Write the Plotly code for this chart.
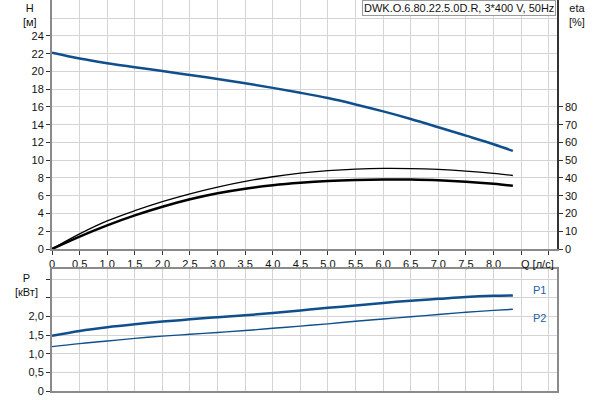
import plotly.graph_objects as go

# flow, l/s
q = [0, 0.5, 1.0, 1.5, 2.0, 2.5, 3.0, 3.5, 4.0, 4.5, 5.0, 5.5, 6.0, 6.5, 7.0, 7.5, 8.0, 8.35]
# head, m
head = [22.1, 21.45, 20.92, 20.48, 20.05, 19.6, 19.15, 18.67, 18.15, 17.6, 17.0, 16.28, 15.5, 14.65, 13.72, 12.77, 11.8, 11.05]
# efficiency, %
eta_pump = [0, 8.5, 15.8, 21.6, 26.7, 31.1, 34.9, 38.1, 40.7, 42.7, 44.1, 45.0, 45.4, 45.3, 44.8, 43.9, 42.6, 41.4]
eta_total = [0, 7.0, 13.3, 18.9, 23.8, 28.0, 31.4, 34.0, 35.9, 37.3, 38.3, 38.9, 39.2, 39.1, 38.7, 37.9, 36.7, 35.6]
# power, kW
p1 = [1.48, 1.61, 1.71, 1.79, 1.86, 1.92, 1.98, 2.03, 2.09, 2.16, 2.23, 2.29, 2.36, 2.42, 2.47, 2.52, 2.55, 2.56]
p2 = [1.19, 1.27, 1.34, 1.41, 1.47, 1.52, 1.57, 1.62, 1.68, 1.74, 1.80, 1.87, 1.93, 1.99, 2.05, 2.11, 2.16, 2.19]

q_ticks = [0, 0.5, 1.0, 1.5, 2.0, 2.5, 3.0, 3.5, 4.0, 4.5, 5.0, 5.5, 6.0, 6.5, 7.0, 7.5, 8.0, 8.5, 9.0]
q_labels = ["0", "0,5", "1,0", "1,5", "2,0", "2,5", "3,0", "3,5", "4,0", "4,5",
            "5,0", "5,5", "6,0", "6,5", "7,0", "7,5", "8,0", "", ""]
h_ticks = list(range(0, 26, 2))
eta_ticks = list(range(0, 90, 10))
p_ticks = [0, 0.5, 1.0, 1.5, 2.0, 2.5, 3.0]
p_labels = ["0", "0,5", "1,0", "1,5", "2,0", "", ""]

BLUE = "#0f4f8c"
GRID = "#d4d4d4"
AXIS = "#8a8a8a"
FONT = dict(family="Liberation Sans, Arial, sans-serif", size=11, color="#111")

fig = go.Figure()
fig.add_trace(go.Scatter(x=q, y=head, mode="lines", line=dict(color=BLUE, width=2.5, shape="spline"),
                         xaxis="x", yaxis="y"))
fig.add_trace(go.Scatter(x=q, y=eta_pump, mode="lines", line=dict(color="#000", width=1.3, shape="spline"),
                         xaxis="x", yaxis="y2"))
fig.add_trace(go.Scatter(x=q, y=eta_total, mode="lines", line=dict(color="#000", width=2.5, shape="spline"),
                         xaxis="x", yaxis="y2"))
fig.add_trace(go.Scatter(x=q, y=p1, mode="lines", line=dict(color=BLUE, width=2.5, shape="spline"),
                         xaxis="x2", yaxis="y3"))
fig.add_trace(go.Scatter(x=q, y=p2, mode="lines", line=dict(color=BLUE, width=1.4, shape="spline"),
                         xaxis="x2", yaxis="y3"))

top_dom = [142 / 391, 1]
bot_dom = [0, 122 / 391]
xr = [0, 9.15]

fig.update_layout(
    width=600, height=400,
    margin=dict(l=52, r=43, t=0, b=9),
    paper_bgcolor="white", plot_bgcolor="white",
    showlegend=False, font=FONT,
    xaxis=dict(domain=[0, 1], range=xr, anchor="y", tickmode="array", tickvals=q_ticks, ticktext=q_labels,
               showgrid=True, gridcolor=GRID, gridwidth=1, showline=True, linecolor=AXIS, linewidth=2,
               ticks="outside", ticklen=4, tickcolor="#333", zeroline=False, tickfont=FONT),
    yaxis=dict(domain=top_dom, range=[0, 28.05], anchor="x", tickmode="array", tickvals=h_ticks,
               showgrid=True, gridcolor=GRID, gridwidth=1, showline=True, linecolor=AXIS, linewidth=2,
               ticks="outside", ticklen=4, tickcolor="#333", zeroline=False, tickfont=FONT,
               minor=dict(tickmode="array", tickvals=[26], showgrid=True, gridcolor=GRID, ticks="")),
    yaxis2=dict(overlaying="y", side="right", anchor="x", range=[0, 140.25], tickmode="array", tickvals=eta_ticks,
                showgrid=False, showline=True, linecolor="#333", linewidth=1.5, ticks="outside", ticklen=4,
                tickcolor="#333", zeroline=False, tickfont=FONT),
    xaxis2=dict(domain=[0, 1], range=xr, anchor="y3", tickmode="array", tickvals=q_ticks, showticklabels=False,
                showgrid=True, gridcolor=GRID, gridwidth=1, showline=True, linecolor=AXIS, linewidth=2,
                mirror=True, ticks="", zeroline=False),
    yaxis3=dict(domain=bot_dom, range=[0, 3.27], anchor="x2", tickmode="array", tickvals=p_ticks, ticktext=p_labels,
                showgrid=True, gridcolor=GRID, gridwidth=1, showline=True, linecolor=AXIS, linewidth=2,
                mirror=True, ticks="outside", ticklen=4, tickcolor="#333", zeroline=False, tickfont=FONT),
)

fig.add_annotation(text="H<br>[м]", xref="paper", yref="paper", x=-0.043, y=1, xanchor="center", yanchor="top",
                   showarrow=False, font=FONT, align="center")
fig.add_annotation(text="eta<br>[%]", xref="paper", yref="paper", x=1.04, y=1, xanchor="center", yanchor="top",
                   showarrow=False, font=FONT, align="center")
fig.add_annotation(text="P<br>[кВт]", xref="paper", yref="paper", x=-0.05, y=0.31, xanchor="center", yanchor="top",
                   showarrow=False, font=FONT, align="center")
fig.add_annotation(text="Q [л/с]", xref="x", yref="paper", x=8.79, y=0.345, xanchor="center", yanchor="top",
                   showarrow=False, font=FONT)
fig.add_annotation(text="DWK.O.6.80.22.5.0D.R, 3*400 V, 50Hz", xref="paper", yref="paper", x=0.998, y=1,
                   xanchor="right", yanchor="top", showarrow=False, font=FONT, bgcolor="white",
                   bordercolor="#999", borderwidth=1, borderpad=1)
fig.add_annotation(text="P1", xref="x2", yref="y3", x=8.84, y=2.72, showarrow=False,
                   font=dict(family=FONT["family"], size=11, color="#2060a8"))
fig.add_annotation(text="P2", xref="x2", yref="y3", x=8.84, y=1.95, showarrow=False,
                   font=dict(family=FONT["family"], size=11, color="#2060a8"))

# page has a default body margin; drop it so the chart sits at the window corner
fig.write_html("out.html", config={"displayModeBar": False},
               post_script="document.body.style.margin='0';")
